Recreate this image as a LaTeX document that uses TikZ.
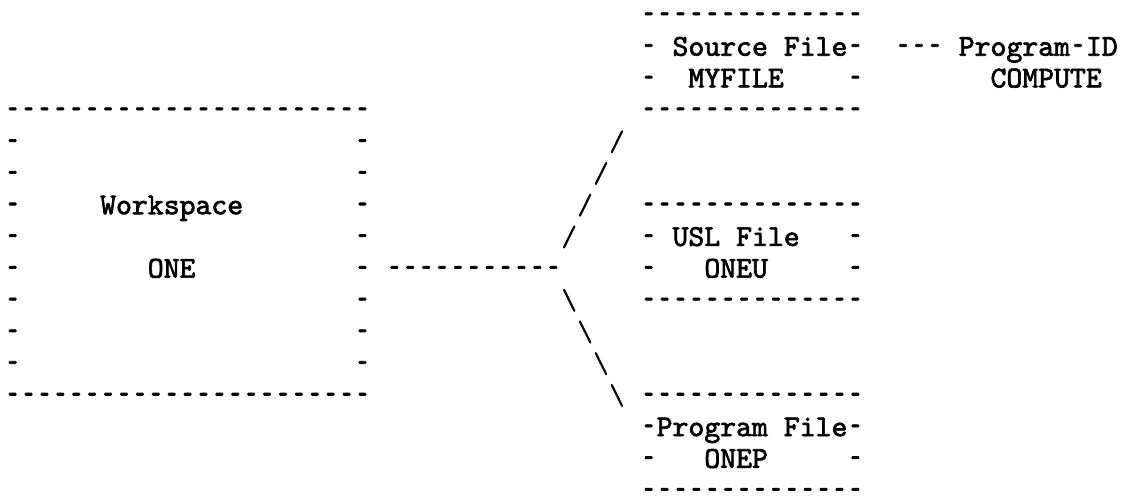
\documentclass[tikz,border=0pt]{standalone}
\usepackage{fontspec}
\newfontfamily\asciifont{lmmono10-regular.otf}[FakeBold=2.2]
\tikzset{
  txt/.style={font=\asciifont\fontsize{22.71pt}{26pt}\selectfont,
              inner sep=0pt, outer sep=0pt, anchor=base west, text=black},
  slashline/.style={line width=1.6pt, line cap=round, black}
}
\newcommand\hy{\makebox[0.525em]{\scalebox{0.6}[1.1]{-}}}
% one piece of text at column #2, row #3
\newcommand\asciipiece[4]{\node[txt] (#1) at ({4.75+15.9*#2},{24+31.7*#3}) {#4};}
% a run of #4 separate dashes starting at column #2, row #3
\newcommand\dashrun[4]{%
  \foreach \k in {1,...,#4}{%
    \pgfmathtruncatemacro\cc{#2+\k-1}%
    \node[txt] (#1-\k) at ({4.75+15.9*\cc},{24+31.7*#3}) {\hy};%
  }%
}
\begin{document}
\begin{tikzpicture}[x=0.75pt,y=-0.75pt]
\useasboundingbox[fill=white] (0,0) rectangle (1125,496);
% Workspace box
\dashrun{wstop}{0}{3}{23}
\dashrun{wsbot}{0}{12}{23}
\foreach \r in {4,...,11}{
  \asciipiece{wsl\r}{0}{\r}{\hy}
  \asciipiece{wsr\r}{22}{\r}{\hy}
}
\asciipiece{wsname}{6}{6}{Workspace}
\asciipiece{wsid}{9}{8}{ONE}
% connector
\dashrun{link}{24}{8}{11}
\foreach \c/\r in {38/4,37/5,36/6,35/7}{
  \coordinate (ua\r) at ({12.7+15.9*\c-5.2},{15+31.7*\r+10.5});
  \coordinate (ub\r) at ({12.7+15.9*\c+5.2},{15+31.7*\r-10.5});
  \draw[slashline] (ua\r) -- (ub\r);
}
\foreach \c/\r in {35/9,36/10,37/11,38/12}{
  \coordinate (da\r) at ({12.7+15.9*\c-5.2},{15+31.7*\r-10.5});
  \coordinate (db\r) at ({12.7+15.9*\c+5.2},{15+31.7*\r+10.5});
  \draw[slashline] (da\r) -- (db\r);
}
% Source file box
\dashrun{srctop}{40}{0}{14}
\asciipiece{srcl1}{40}{1}{\hy}
\asciipiece{srcname}{42}{1}{Source}
\asciipiece{srcfile}{49}{1}{File\hy}
\asciipiece{srcl2}{40}{2}{\hy}
\asciipiece{srcid}{43}{2}{MYFILE}
\asciipiece{srcr2}{53}{2}{\hy}
\dashrun{srcbot}{40}{3}{14}
\dashrun{pidlink}{56}{1}{3}
\asciipiece{pidname}{60}{1}{Program\hy ID}
\asciipiece{pidval}{62}{2}{COMPUTE}
% USL file box
\dashrun{usltop}{40}{6}{14}
\asciipiece{usll7}{40}{7}{\hy}
\asciipiece{uslname}{42}{7}{USL}
\asciipiece{uslfile}{46}{7}{File}
\asciipiece{uslr7}{53}{7}{\hy}
\asciipiece{usll8}{40}{8}{\hy}
\asciipiece{uslid}{44}{8}{ONEU}
\asciipiece{uslr8}{53}{8}{\hy}
\dashrun{uslbot}{40}{9}{14}
% Program file box
\dashrun{prgtop}{40}{12}{14}
\asciipiece{prgname}{40}{13}{\hy Program}
\asciipiece{prgfile}{49}{13}{File\hy}
\asciipiece{prgl14}{40}{14}{\hy}
\asciipiece{prgid}{44}{14}{ONEP}
\asciipiece{prgr14}{53}{14}{\hy}
\dashrun{prgbot}{40}{15}{14}
\end{tikzpicture}
\end{document}
